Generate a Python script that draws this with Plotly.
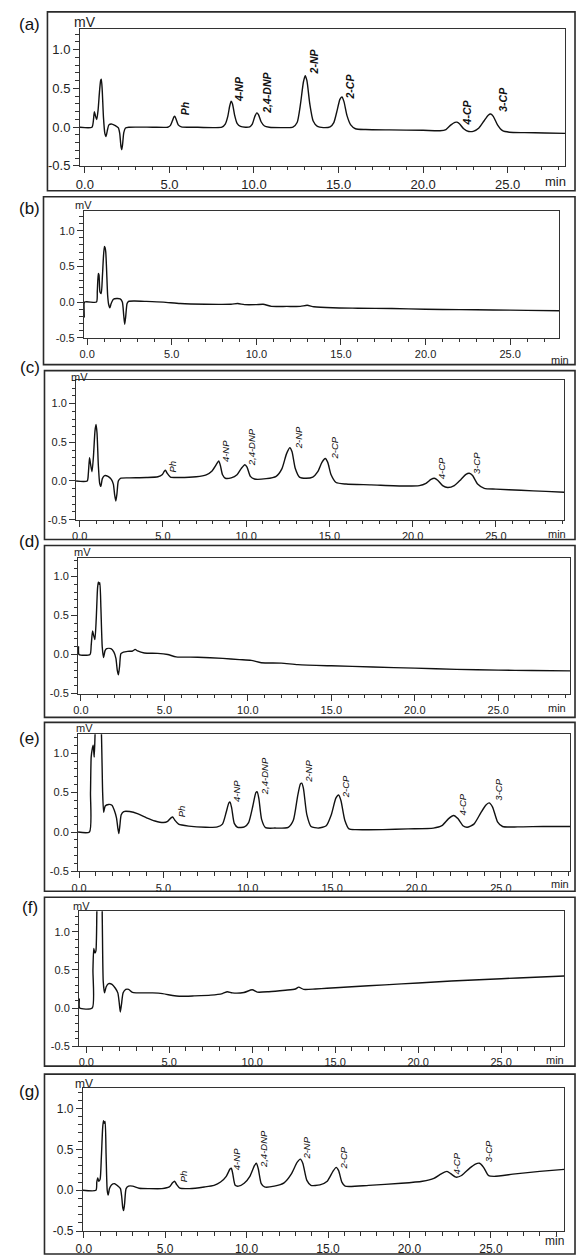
import plotly.graph_objects as go

W, H = 576, 1256

# ---------------- data ----------------
peak_names = ["Ph", "4-NP", "2,4-DNP", "2-NP", "2-CP", "4-CP", "3-CP"]
panel_letters = ["(a)", "(b)", "(c)", "(d)", "(e)", "(f)", "(g)"]
x_tick_values = [0, 5, 10, 15, 20, 25]
x_tick_text = ["0.0", "5.0", "10.0", "15.0", "20.0", "25.0"]
y_tick_values = [-0.5, 0.0, 0.5, 1.0]
y_tick_text = ["-0.5", "0.0", "0.5", "1.0"]

# chromatograms: (time in min, signal in mV)
trace_a = [(-0.29, 0.0), (0.42, 0.0), (0.50, 0.08), (0.56, 0.20), (0.62, 0.15), (0.70, 0.10), (0.78, 0.22),
           (0.86, 0.45), (0.93, 0.60), (0.97, 0.62), (1.02, 0.50), (1.10, 0.12), (1.18, -0.08), (1.25, -0.12),
           (1.32, -0.05), (1.42, 0.03), (1.60, 0.04), (1.80, 0.02), (1.98, -0.01), (2.06, -0.08), (2.13, -0.24),
           (2.18, -0.29), (2.23, -0.22), (2.30, -0.07), (2.40, -0.01), (2.60, 0.0), (4.0, 0.0), (4.90, 0.0),
           (5.05, 0.02), (5.17, 0.08), (5.27, 0.135), (5.32, 0.14), (5.40, 0.10), (5.52, 0.03), (5.70, 0.005),
           (6.5, 0.0), (7.6, -0.005), (8.10, 0.0), (8.30, 0.04), (8.45, 0.14), (8.56, 0.27), (8.65, 0.335),
           (8.73, 0.30), (8.85, 0.16), (9.00, 0.05), (9.20, 0.01), (9.50, 0.0), (9.75, 0.005), (9.90, 0.04),
           (10.05, 0.14), (10.17, 0.185), (10.27, 0.16), (10.42, 0.07), (10.62, 0.015), (10.9, 0.0), (11.6, -0.005),
           (12.30, 0.0), (12.55, 0.06), (12.75, 0.30), (12.92, 0.58), (13.03, 0.665), (13.13, 0.60), (13.30, 0.30),
           (13.50, 0.08), (13.75, 0.01), (14.1, -0.005), (14.50, 0.005), (14.72, 0.06), (14.92, 0.22), (15.08, 0.36),
           (15.20, 0.39), (15.32, 0.33), (15.50, 0.15), (15.72, 0.03), (16.0, -0.02), (16.6, -0.03), (18.0, -0.035),
           (20.0, -0.04), (21.0, -0.045), (21.35, -0.03), (21.65, 0.03), (21.88, 0.062), (22.0, 0.065), (22.15, 0.045),
           (22.40, -0.02), (22.70, -0.055), (23.0, -0.05), (23.30, -0.01), (23.60, 0.08), (23.85, 0.155), (24.0, 0.17),
           (24.15, 0.14), (24.40, 0.03), (24.70, -0.045), (25.1, -0.065), (26.0, -0.07), (27.2, -0.075), (28.4, -0.08)]

trace_b = [(-0.19, 0.0), (-0.17, -0.21), (-0.15, 0.0), (0.55, 0.0), (0.60, 0.15), (0.66, 0.40), (0.70, 0.38),
           (0.76, 0.14), (0.83, 0.12), (0.90, 0.35), (0.96, 0.62), (1.02, 0.78), (1.06, 0.76), (1.10, 0.70),
           (1.15, 0.45), (1.21, 0.10), (1.27, -0.03), (1.34, -0.08), (1.42, -0.02), (1.55, 0.04), (1.75, 0.05),
           (1.95, 0.045), (2.08, 0.0), (2.16, -0.18), (2.22, -0.31), (2.28, -0.20), (2.36, -0.02), (2.45, 0.01),
           (2.8, 0.015), (3.5, 0.01), (4.5, 0.0), (5.5, -0.02), (7.0, -0.03), (8.5, -0.03), (8.9, -0.02),
           (9.3, -0.035), (10.0, -0.035), (10.4, -0.03), (10.9, -0.06), (11.8, -0.06), (12.6, -0.06), (13.0, -0.045),
           (13.4, -0.065), (14.5, -0.08), (16.0, -0.085), (18.0, -0.09), (20.0, -0.1), (22.0, -0.105), (24.0, -0.11),
           (26.0, -0.115), (27.9, -0.12)]

trace_c = [(-0.22, 0.0), (0.45, 0.0), (0.52, 0.10), (0.59, 0.30), (0.65, 0.22), (0.74, 0.12), (0.82, 0.30),
           (0.92, 0.65), (0.98, 0.73), (1.04, 0.62), (1.12, 0.20), (1.20, -0.03), (1.27, -0.07), (1.36, 0.03),
           (1.50, 0.07), (1.70, 0.06), (1.90, 0.02), (2.02, -0.04), (2.10, -0.18), (2.17, -0.26), (2.24, -0.16),
           (2.32, 0.0), (2.45, 0.035), (3.0, 0.04), (4.0, 0.045), (4.7, 0.055), (4.95, 0.08), (5.08, 0.125),
           (5.15, 0.14), (5.25, 0.10), (5.45, 0.05), (6.0, 0.045), (7.0, 0.055), (7.6, 0.08), (7.95, 0.13),
           (8.20, 0.21), (8.35, 0.26), (8.45, 0.20), (8.58, 0.08), (8.75, 0.035), (9.1, 0.04), (9.45, 0.08),
           (9.70, 0.16), (9.92, 0.21), (10.05, 0.18), (10.25, 0.06), (10.5, 0.025), (11.2, 0.03), (11.8, 0.06),
           (12.15, 0.16), (12.42, 0.35), (12.62, 0.43), (12.75, 0.38), (12.95, 0.16), (13.2, 0.05), (13.6, 0.035),
           (14.0, 0.05), (14.3, 0.12), (14.55, 0.24), (14.75, 0.29), (14.9, 0.24), (15.1, 0.08), (15.4, -0.02),
           (16.0, -0.04), (17.5, -0.05), (19.5, -0.065), (20.4, -0.06), (20.8, -0.03), (21.1, 0.02), (21.3, 0.035),
           (21.5, 0.01), (21.8, -0.06), (22.1, -0.085), (22.5, -0.06), (22.9, 0.02), (23.2, 0.085), (23.4, 0.10),
           (23.6, 0.07), (23.9, -0.04), (24.3, -0.095), (25.0, -0.105), (26.5, -0.12), (28.0, -0.135), (29.1, -0.145)]

trace_d = [(-0.17, 0.0), (-0.14, 0.10), (-0.11, 0.0), (0.55, 0.0), (0.62, 0.12), (0.70, 0.30), (0.76, 0.25),
           (0.84, 0.19), (0.92, 0.45), (1.00, 0.85), (1.05, 0.93), (1.10, 0.90), (1.14, 0.92), (1.20, 0.60),
           (1.28, 0.10), (1.36, -0.04), (1.45, 0.05), (1.55, 0.075), (1.80, 0.075), (1.98, 0.03), (2.10, -0.05),
           (2.18, -0.20), (2.25, -0.26), (2.32, -0.15), (2.40, 0.01), (2.55, 0.03), (2.8, 0.04), (3.1, 0.045),
           (3.25, 0.065), (3.4, 0.045), (3.8, 0.02), (4.6, 0.015), (5.2, 0.0), (5.7, -0.03), (7.0, -0.035),
           (8.5, -0.05), (9.5, -0.065), (10.2, -0.075), (10.8, -0.105), (12.0, -0.11), (13.0, -0.13), (15.0, -0.145),
           (17.5, -0.16), (20.0, -0.175), (22.5, -0.19), (25.0, -0.2), (27.0, -0.205), (29.3, -0.21)]

trace_e = [(-0.06, 0.0), (0.62, 0.0), (0.68, 0.5), (0.72, 0.95), (0.78, 1.05), (0.84, 1.10), (0.90, 0.95),
           (0.96, 1.3), (1.05, 1.7), (1.20, 1.7), (1.32, 1.3), (1.40, 0.5), (1.46, 0.25), (1.55, 0.33), (1.75, 0.35),
           (1.95, 0.34), (2.10, 0.27), (2.22, 0.18), (2.30, 0.05), (2.36, -0.02), (2.42, 0.08), (2.50, 0.22),
           (2.65, 0.26), (3.0, 0.26), (3.5, 0.23), (4.0, 0.18), (4.5, 0.14), (5.0, 0.12), (5.25, 0.135), (5.45, 0.18),
           (5.55, 0.19), (5.68, 0.15), (5.90, 0.10), (6.5, 0.075), (7.5, 0.06), (8.2, 0.065), (8.5, 0.10),
           (8.72, 0.25), (8.88, 0.37), (8.95, 0.38), (9.05, 0.30), (9.20, 0.11), (9.40, 0.06), (9.8, 0.065),
           (10.05, 0.12), (10.30, 0.33), (10.48, 0.50), (10.56, 0.51), (10.66, 0.42), (10.82, 0.16), (11.05, 0.055),
           (11.6, 0.05), (12.4, 0.06), (12.70, 0.15), (12.95, 0.45), (13.12, 0.61), (13.20, 0.62), (13.30, 0.55),
           (13.50, 0.22), (13.75, 0.07), (14.2, 0.05), (14.65, 0.08), (14.95, 0.22), (15.22, 0.43), (15.38, 0.47),
           (15.52, 0.40), (15.75, 0.15), (16.0, 0.04), (16.4, 0.03), (18.0, 0.03), (19.5, 0.04), (21.0, 0.05),
           (21.5, 0.08), (21.9, 0.17), (22.2, 0.21), (22.45, 0.17), (22.75, 0.08), (23.0, 0.06), (23.4, 0.10),
           (23.8, 0.24), (24.1, 0.34), (24.3, 0.37), (24.5, 0.32), (24.8, 0.13), (25.1, 0.07), (26.0, 0.065),
           (27.5, 0.07), (29.1, 0.07)]

trace_f = [(-0.44, 0.0), (-0.42, 0.12), (-0.40, 0.0), (0.36, 0.0), (0.40, 0.5), (0.45, 0.78), (0.52, 0.72),
           (0.58, 0.75), (0.64, 1.3), (0.70, 1.7), (0.90, 1.7), (0.96, 1.2), (1.02, 0.35), (1.10, 0.20), (1.20, 0.28),
           (1.35, 0.32), (1.55, 0.31), (1.75, 0.26), (1.90, 0.20), (1.98, 0.08), (2.05, -0.05), (2.12, 0.05),
           (2.22, 0.20), (2.38, 0.245), (2.55, 0.245), (2.75, 0.21), (3.0, 0.2), (4.0, 0.2), (4.6, 0.19),
           (5.2, 0.165), (5.6, 0.155), (6.5, 0.16), (7.5, 0.17), (8.2, 0.19), (8.5, 0.215), (8.8, 0.2), (9.5, 0.205),
           (10.0, 0.24), (10.3, 0.21), (11.0, 0.215), (12.0, 0.235), (12.6, 0.25), (12.8, 0.275), (13.1, 0.245),
           (13.8, 0.25), (14.5, 0.26), (16.0, 0.28), (18.0, 0.305), (20.0, 0.33), (22.0, 0.355), (24.0, 0.375),
           (26.0, 0.395), (28.8, 0.42)]

trace_g = [(-0.05, 0.0), (0.75, 0.0), (0.80, 0.10), (0.86, 0.15), (0.92, 0.11), (1.00, 0.13), (1.08, 0.40),
           (1.16, 0.76), (1.21, 0.85), (1.26, 0.82), (1.31, 0.84), (1.37, 0.45), (1.44, 0.0), (1.50, -0.06),
           (1.58, 0.02), (1.70, 0.065), (1.90, 0.08), (2.10, 0.05), (2.25, 0.02), (2.33, -0.08), (2.40, -0.22),
           (2.45, -0.25), (2.51, -0.16), (2.60, 0.02), (2.75, 0.05), (3.0, 0.05), (3.4, 0.025), (4.0, 0.02),
           (4.8, 0.02), (5.25, 0.04), (5.45, 0.09), (5.58, 0.11), (5.70, 0.07), (5.90, 0.025), (6.5, 0.02),
           (7.4, 0.04), (8.0, 0.06), (8.4, 0.10), (8.75, 0.17), (8.98, 0.26), (9.06, 0.27), (9.15, 0.20),
           (9.30, 0.06), (9.50, 0.05), (9.85, 0.085), (10.2, 0.17), (10.48, 0.30), (10.6, 0.33), (10.72, 0.26),
           (10.9, 0.08), (11.1, 0.04), (11.7, 0.05), (12.3, 0.09), (12.75, 0.20), (13.1, 0.34), (13.3, 0.38),
           (13.45, 0.33), (13.7, 0.12), (13.95, 0.06), (14.5, 0.065), (14.95, 0.11), (15.3, 0.23), (15.5, 0.28),
           (15.65, 0.24), (15.85, 0.1), (16.05, 0.05), (17.5, 0.06), (19.5, 0.085), (20.8, 0.11), (21.5, 0.145),
           (21.95, 0.2), (22.3, 0.23), (22.55, 0.2), (22.85, 0.16), (23.2, 0.18), (23.7, 0.27), (24.05, 0.32),
           (24.3, 0.33), (24.55, 0.28), (24.85, 0.18), (25.2, 0.17), (26.5, 0.2), (28.0, 0.23), (29.5, 0.255)]

# peak-label anchor points (time, mV); panels b, d, f carry no labels
label_a_t = [5.9, 9.1, 10.75, 13.55, 15.7, 22.65, 24.75]
label_a_mv = [0.24, 0.49, 0.44, 0.85, 0.53, 0.19, 0.36]
label_c_t = [5.6, 8.76, 10.37, 13.15, 15.28, 21.74, 23.8]
label_c_mv = [0.185, 0.38, 0.44, 0.56, 0.42, 0.16, 0.23]
label_e_t = [6.09, 9.3, 10.97, 13.6, 15.76, 22.7, 24.84]
label_e_mv = [0.26, 0.52, 0.71, 0.77, 0.58, 0.35, 0.54]
label_g_t = [6.12, 9.35, 11.05, 13.7, 15.98, 22.88, 24.9]
label_g_mv = [0.175, 0.38, 0.5, 0.52, 0.4, 0.33, 0.48]

traces = [trace_a, trace_b, trace_c, trace_d, trace_e, trace_f, trace_g]
peak_labels = [(label_a_t, label_a_mv), None, (label_c_t, label_c_mv), None,
               (label_e_t, label_e_mv), None, (label_g_t, label_g_mv)]

# ---------------- layout geometry (pixels) ----------------
geometry = [
    dict(outer=(40, 12, 575, 192), inner=(73, 29, 565, 167), xr=(-0.29, 28.4), ytop=1.27,
         letter=(22, 25), mv=(78, 22), minpos=(555, 183), tf=13, mvf=14, lf=10.5, bold=True),
    dict(outer=(36, 198, 575, 367), inner=(77, 212, 559, 340), xr=(-0.19, 27.9), ytop=1.28,
         letter=(22, 210), mv=(77, 206), minpos=(560, 362), tf=11, mvf=11, lf=9.5, bold=False),
    dict(outer=(37, 373, 575, 543), inner=(69, 382, 564, 523), xr=(-0.22, 29.1), ytop=1.31,
         letter=(22, 370), mv=(73, 379), minpos=(557, 537), tf=11, mvf=11, lf=9.5, bold=False),
    dict(outer=(37, 549, 575, 722), inner=(71, 562, 570, 698), xr=(-0.17, 29.3), ytop=1.23,
         letter=(22, 545), mv=(76, 556), minpos=(557, 713), tf=11, mvf=11, lf=9.5, bold=False),
    dict(outer=(37, 727, 575, 897), inner=(71, 739, 570, 877), xr=(-0.06, 29.1), ytop=1.24,
         letter=(22, 743), mv=(78, 733), minpos=(560, 890), tf=11, mvf=11, lf=9.5, bold=False),
    dict(outer=(37, 903, 575, 1073), inner=(72, 917, 564, 1053), xr=(-0.44, 28.8), ytop=1.27,
         letter=(22, 913), mv=(75, 912), minpos=(555, 1067), tf=11, mvf=11, lf=9.5, bold=False),
    dict(outer=(37, 1081, 575, 1262), inner=(76, 1095, 564, 1239), xr=(-0.05, 29.5), ytop=1.25,
         letter=(22, 1098), mv=(77, 1091), minpos=(554, 1249), tf=12, mvf=12, lf=9.5, bold=False),
]

FONT = "Arial, Liberation Sans, sans-serif"
NARROW = "Liberation Sans Narrow, Arial Narrow, Liberation Sans, Arial, sans-serif"
AX = "#333333"


def px(x):
    return x / W


def py(y):
    return 1 - y / H


fig = go.Figure()
annotations = []
shapes = []
layout_axes = {}

for i, (tr, geo) in enumerate(zip(traces, geometry)):
    n = i + 1
    xs = [p[0] for p in tr]
    ys = [p[1] for p in tr]
    fig.add_trace(go.Scatter(
        x=xs, y=ys, mode="lines", xaxis=f"x{n}", yaxis=f"y{n}",
        line=dict(color="#111111", width=1.4, shape="spline", smoothing=0.6),
        hoverinfo="skip", showlegend=False))

    l, t, r, b = geo["inner"]
    layout_axes[f"xaxis{n}"] = dict(
        domain=[px(l), px(r)], range=list(geo["xr"]), anchor=f"y{n}",
        showline=True, linecolor=AX, linewidth=1, mirror=True,
        ticks="outside", ticklen=6, tickwidth=1, tickcolor=AX,
        tickvals=x_tick_values, ticktext=x_tick_text,
        tickfont=dict(family=FONT, size=geo["tf"], color="#222222"),
        minor=dict(ticks="outside", dtick=1, tick0=0, ticklen=3.5, tickcolor=AX, showgrid=False),
        showgrid=False, zeroline=False, fixedrange=True)
    layout_axes[f"yaxis{n}"] = dict(
        domain=[py(b), py(t)], range=[-0.5, geo["ytop"]], anchor=f"x{n}",
        showline=True, linecolor=AX, linewidth=1, mirror=True,
        ticks="outside", ticklen=6, tickwidth=1, tickcolor=AX,
        tickvals=y_tick_values, ticktext=y_tick_text,
        tickfont=dict(family=FONT, size=geo["tf"], color="#222222"),
        minor=dict(ticks="outside", dtick=0.1, tick0=0, ticklen=3.5, tickcolor=AX, showgrid=False),
        showgrid=False, zeroline=False, fixedrange=True)

    ol, ot, orr, ob = geo["outer"]
    shapes.append(dict(type="rect", xref="paper", yref="paper",
                       x0=px(ol), x1=px(orr), y0=py(ob), y1=py(ot),
                       line=dict(color="#2a2a2a", width=1.6), fillcolor="rgba(0,0,0,0)", layer="below"))

    lx, ly = geo["letter"]
    annotations.append(dict(text=panel_letters[i], xref="paper", yref="paper", x=px(lx), y=py(ly),
                            xanchor="center", yanchor="middle", showarrow=False,
                            font=dict(family=FONT, size=17, color="#111111")))
    mx, my = geo["mv"]
    annotations.append(dict(text="mV", xref="paper", yref="paper", x=px(mx), y=py(my),
                            xanchor="center", yanchor="middle", showarrow=False,
                            font=dict(family=FONT, size=geo["mvf"], color="#222222")))
    nx, ny = geo["minpos"]
    annotations.append(dict(text="min", xref="paper", yref="paper", x=px(nx), y=py(ny),
                            xanchor="center", yanchor="middle", showarrow=False,
                            font=dict(family=FONT, size=geo["tf"], color="#222222")))

    if peak_labels[i] is not None:
        lt, lv = peak_labels[i]
        for name, tt, vv in zip(peak_names, lt, lv):
            txt = f"<b><i>{name}</i></b>" if geo["bold"] else f"<i>{name}</i>"
            annotations.append(dict(text=txt, xref=f"x{n}", yref=f"y{n}", x=tt, y=vv,
                                    xanchor="center", yanchor="middle", showarrow=False, textangle=-90,
                                    font=dict(family=NARROW, size=geo["lf"], color="#111111")))

fig.update_layout(
    width=W, height=H, margin=dict(l=0, r=0, t=0, b=0),
    paper_bgcolor="white", plot_bgcolor="white", showlegend=False,
    annotations=annotations, shapes=shapes, **layout_axes)

fig.write_html("out.html",
               config={"displayModeBar": False, "staticPlot": True},
               post_script="document.body.style.margin='0px';document.body.style.overflow='hidden';")
